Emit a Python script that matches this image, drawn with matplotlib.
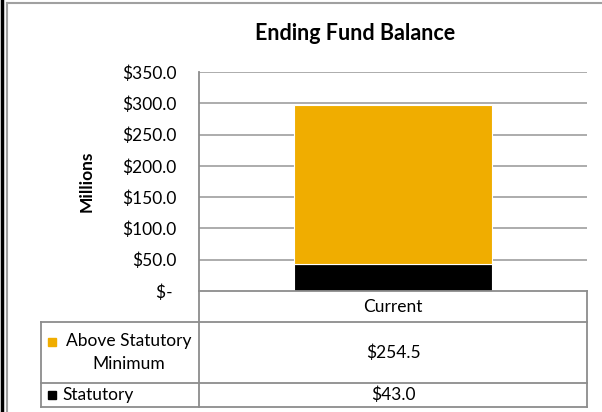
import matplotlib.pyplot as plt
from matplotlib.lines import Line2D
from matplotlib.patches import Rectangle

plt.rcParams['font.family'] = ['Lato', 'DejaVu Sans']

categories = ["Current"]
series_names = ["Above Statutory\nMinimum", "Statutory"]
statutory = [43.0]
above_min = [254.5]
colors = ["#F0AD00", "#000000"]
yticks = [0, 50, 100, 150, 200, 250, 300, 350]

W, H = 602, 412
fig = plt.figure(figsize=(W / 100, H / 100), dpi=100)


def fx(px):
    return px / W


def fy(py):
    return 1 - py / H


# plot area in pixels
left, right, top, bottom = 199, 587, 72, 291
ax = fig.add_axes([fx(left), fy(bottom), fx(right - left), (bottom - top) / H])

grid_c = "#a6a6a6"
for t in yticks[1:]:
    ax.axhline(t, color=grid_c, lw=1.3, zorder=0)

ax.bar(categories, statutory, width=0.51, color=colors[1], edgecolor="white", lw=0.8, zorder=3)
ax.bar(categories, above_min, bottom=statutory, width=0.51, color=colors[0],
       edgecolor="white", lw=0.8, zorder=3)

ax.set_ylim(0, 350)
ax.set_xlim(-0.5, 0.5)
ax.set_yticks(yticks)
ax.set_yticklabels(["$" + format(t, ".1f") if t else "$- " for t in yticks], fontsize=12.5)
ax.tick_params(axis="y", length=0, pad=16)
ax.set_xticks([])
for s in ["top", "right", "bottom"]:
    ax.spines[s].set_visible(False)
ax.spines["left"].set_color("#8c8c8c")
ax.spines["left"].set_linewidth(1.3)
ax.set_ylabel("Millions", fontsize=12.5, fontweight="bold", labelpad=20)

fig.text(fx(355), fy(34), "Ending Fund Balance", ha="center", va="center",
         fontsize=15.5, fontweight="bold")

# data table under the plot
line_c = "#8c8c8c"


def hline(x0, x1, y):
    fig.add_artist(Line2D([fx(x0), fx(x1)], [fy(y), fy(y)], color=line_c, lw=1.3))


def vline(x, y0, y1):
    fig.add_artist(Line2D([fx(x), fx(x)], [fy(y0), fy(y1)], color=line_c, lw=1.3))


tab_left, row_tops = 41, [291, 322, 383, 407]
hline(left, right, 291)
hline(tab_left, right, 322)
hline(tab_left, right, 383)
hline(tab_left, right, 407)
vline(left, 291, 407)
vline(right, 291, 407)
vline(tab_left, 322, 407)

fig.text(fx((left + right) / 2), fy(306.5), categories[0], ha="center", va="center", fontsize=12.5)

values = [above_min, statutory]
for i, name in enumerate(series_names):
    yc = (row_tops[i + 1] + row_tops[i + 2]) / 2
    fig.add_artist(Rectangle((fx(48), fy(yc - (11 if i == 0 else 0)) - 4 / H), 8 / W, 8 / H,
                             color=colors[i], transform=fig.transFigure))
    if i == 0:
        fig.text(fx(129), fy(yc), name, ha="center", va="center", fontsize=12.5,
                 linespacing=1.5)
    else:
        fig.text(fx(62), fy(yc), name, ha="left", va="center", fontsize=12.5)
    fig.text(fx((left + right) / 2), fy(yc), "$" + format(values[i][0], ".1f"),
             ha="center", va="center", fontsize=12.5)

# outer frame
fig.add_artist(Line2D([fx(1.5), fx(1.5)], [0, 1], color="black", lw=2.5))
fig.add_artist(Line2D([fx(7), fx(7)], [0, fy(3)], color="#a0a0a0", lw=1.5))
fig.add_artist(Line2D([fx(7), 1], [fy(3), fy(3)], color="#a0a0a0", lw=1.5))

fig.savefig("out.png", dpi=100)
